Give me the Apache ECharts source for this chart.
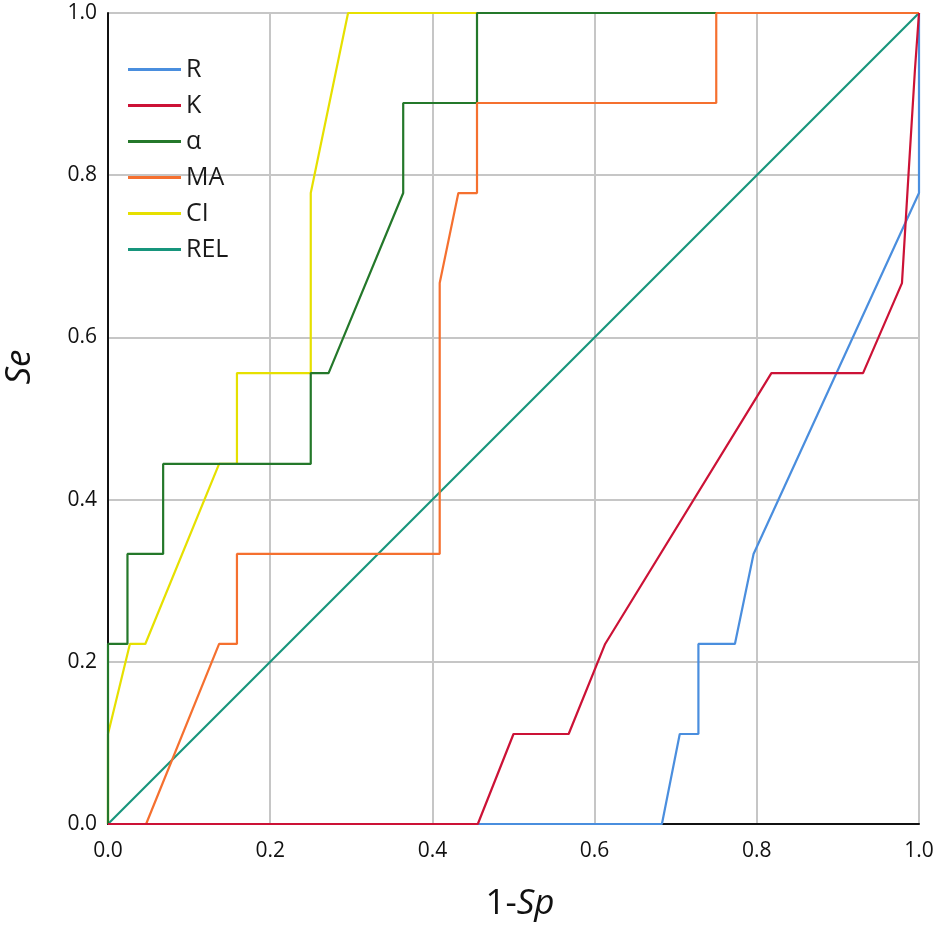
<!DOCTYPE html>
<html>
<head>
<meta charset="utf-8">
<script src="https://cdn.jsdelivr.net/npm/echarts@6/dist/echarts.min.js"></script>
<style>
html,body{margin:0;padding:0;background:#fff;}
#chart{width:942px;height:934px;}
</style>
</head>
<body>
<div id="chart"></div>
<script>
// Series names (legend order)
const seriesNames = ['R', 'K', 'α', 'MA', 'CI', 'REL'];
// Axis ticks
const tickValues = [0.0, 0.2, 0.4, 0.6, 0.8, 1.0];

// ROC curves: [1-Sp, Se]
const R_points = [[0,0],[0.683,0],[0.705,0.111],[0.728,0.111],[0.728,0.222],[0.773,0.222],[0.796,0.333],[1.0,0.778],[1,1]];
const K_points = [[0,0],[0.456,0],[0.5,0.111],[0.568,0.111],[0.613,0.222],[0.818,0.556],[0.931,0.556],[0.979,0.667],[0.987,0.8],[0.995,0.93],[1,1]];
const alpha_points = [[0,0],[0,0.222],[0.024,0.222],[0.024,0.333],[0.068,0.333],[0.068,0.444],[0.25,0.444],[0.25,0.556],[0.272,0.556],[0.364,0.778],[0.364,0.889],[0.455,0.889],[0.455,1],[1,1]];
const MA_points = [[0,0],[0.047,0],[0.137,0.222],[0.159,0.222],[0.159,0.333],[0.409,0.333],[0.409,0.667],[0.432,0.778],[0.455,0.778],[0.455,0.889],[0.75,0.889],[0.75,1],[1,1]];
const CI_points = [[0,0],[0,0.111],[0.027,0.222],[0.046,0.222],[0.137,0.444],[0.159,0.444],[0.159,0.556],[0.25,0.556],[0.25,0.778],[0.296,1],[1,1]];
const REL_points = [[0,0],[1,1]];

const colors = {
  'R': '#4a8ede',
  'K': '#cc1236',
  'α': '#24782a',
  'MA': '#f5702f',
  'CI': '#e6e000',
  'REL': '#17957c'
};

const dataByName = {
  'R': R_points, 'K': K_points, 'α': alpha_points,
  'MA': MA_points, 'CI': CI_points, 'REL': REL_points
};

// drawing order (later on top)
const drawOrder = ['CI', 'REL', 'α', 'MA', 'R', 'K'];

const chart = echarts.init(document.getElementById('chart'), null, {renderer: 'canvas'});

const axisFont = '"Open Sans", "Noto Sans", sans-serif';

function makeAxis() {
  return {
    type: 'value',
    min: 0, max: 1, interval: 0.2,
    axisLine: {show: true, onZero: false, lineStyle: {color: '#111', width: 2}},
    axisTick: {show: false},
    splitLine: {show: true, lineStyle: {color: '#c6c6c6', width: 2}},
    axisLabel: {
      fontSize: 21, color: '#111', fontFamily: axisFont,
      formatter: v => tickValues.find(t => Math.abs(t - v) < 1e-9) !== undefined ? v.toFixed(1) : ''
    }
  };
}

const xAxis = makeAxis();
xAxis.axisLabel.margin = 17;
const yAxis = makeAxis();
yAxis.axisLabel.margin = 11;

chart.setOption({
  animation: false,
  backgroundColor: '#fff',
  grid: {left: 108, right: 23, top: 13, bottom: 110, containLabel: false},
  xAxis: xAxis,
  yAxis: yAxis,
  legend: {
    data: seriesNames,
    orient: 'vertical',
    left: 123, top: 52,
    icon: 'rect',
    itemWidth: 53, itemHeight: 3,
    itemGap: 11,
    textStyle: {fontSize: 25, lineHeight: 25, color: '#1a1a1a', fontFamily: axisFont}
  },
  graphic: [
    {
      type: 'text', x: 20, y: 367, rotation: Math.PI / 2,
      style: {text: 'Se', fontSize: 35, fontStyle: 'italic', fontFamily: axisFont, fill: '#111', align: 'center', verticalAlign: 'middle'}
    },
    {
      type: 'text', x: 520, y: 904,
      style: {
        text: '{a|1-}{b|Sp}', align: 'center', verticalAlign: 'middle',
        rich: {
          a: {fontSize: 35, fontFamily: axisFont, fill: '#111', color: '#111'},
          b: {fontSize: 35, fontFamily: axisFont, fontStyle: 'italic', fill: '#111', color: '#111'}
        }
      }
    }
  ],
  series: drawOrder.map(name => ({
    name: name,
    type: 'line',
    data: dataByName[name],
    symbol: 'none',
    clip: false,
    lineStyle: {color: colors[name], width: 2.2},
    itemStyle: {color: colors[name]}
  }))
});
</script>
</body>
</html>
